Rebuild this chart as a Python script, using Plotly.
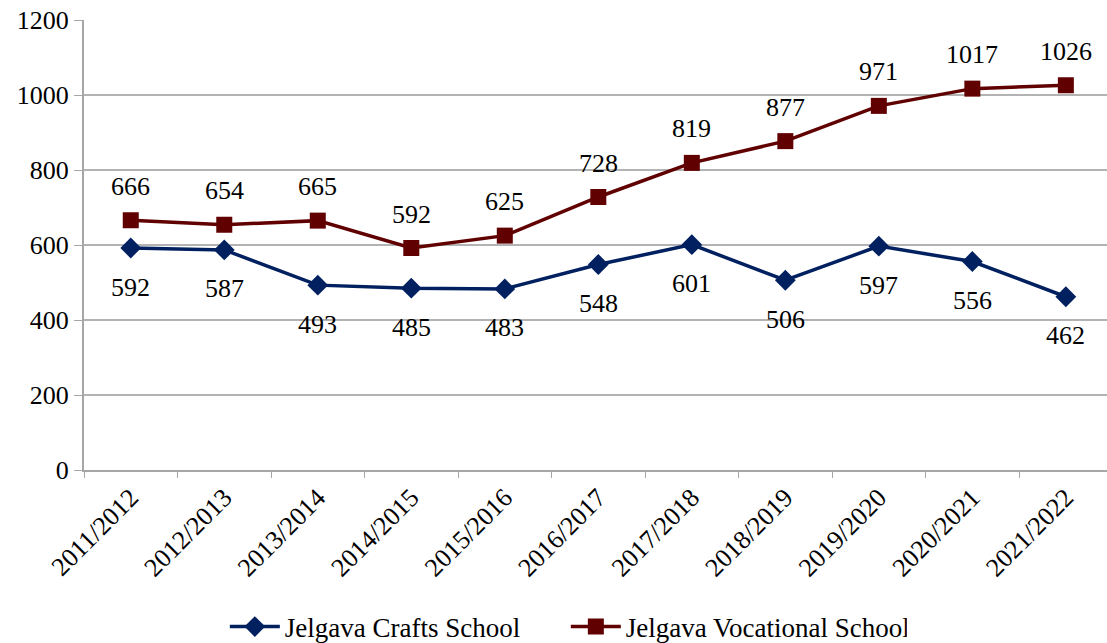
import plotly.graph_objects as go

years = ["2011/2012", "2012/2013", "2013/2014", "2014/2015", "2015/2016", "2016/2017",
         "2017/2018", "2018/2019", "2019/2020", "2020/2021", "2021/2022"]
crafts = [592, 587, 493, 485, 483, 548, 601, 506, 597, 556, 462]
vocational = [666, 654, 665, 592, 625, 728, 819, 877, 971, 1017, 1026]

FONT = "Liberation Serif"
NAVY = "#002060"
MAROON = "#600000"

fig = go.Figure()
fig.add_trace(go.Scatter(x=years, y=crafts, name="Jelgava Crafts School", mode="lines+markers",
                         line=dict(color=NAVY, width=3.5),
                         marker=dict(symbol="diamond", size=16, color=NAVY)))
fig.add_trace(go.Scatter(x=years, y=vocational, name="Jelgava Vocational School", mode="lines+markers",
                         line=dict(color=MAROON, width=3.5),
                         marker=dict(symbol="square", size=16, color=MAROON)))

for x, y in zip(years, crafts):
    fig.add_annotation(x=x, y=y, text=str(y), showarrow=False, yshift=-39,
                       font=dict(family=FONT, size=26, color="black"))
for x, y in zip(years, vocational):
    fig.add_annotation(x=x, y=y, text=str(y), showarrow=False, yshift=34,
                       font=dict(family=FONT, size=26, color="black"))

fig.update_layout(
    width=1107, height=643,
    margin=dict(l=84, r=0, t=20, b=173),
    paper_bgcolor="white", plot_bgcolor="white",
    font=dict(family=FONT, size=26, color="black"),
    showlegend=True,
    legend=dict(orientation="h", xref="paper", x=0.471, xanchor="center",
                yref="container", y=1 - 627 / 643, yanchor="middle",
                font=dict(family=FONT, size=27), itemwidth=50, entrywidth=276, tracegroupgap=0),
    xaxis=dict(range=[-0.5, 10.44], tickangle=-45, ticks="outside", tickson="boundaries",
               ticklen=6, tickcolor="#a6a6a6", showline=True, linecolor="#a6a6a6", linewidth=2,
               showgrid=False, tickfont=dict(family=FONT, size=26), automargin=False),
    yaxis=dict(range=[0, 1200], dtick=200, ticks="outside", ticklen=8, tickcolor="#a6a6a6",
               showline=True, linecolor="#a6a6a6", linewidth=2, gridcolor="#b3b3b3", gridwidth=1.5,
               zeroline=False, tickfont=dict(family=FONT, size=26), automargin=False),
)

fig.write_html("out.html", config={"displayModeBar": False},
               post_script="document.body.style.margin='0';document.body.style.overflow='hidden';")
